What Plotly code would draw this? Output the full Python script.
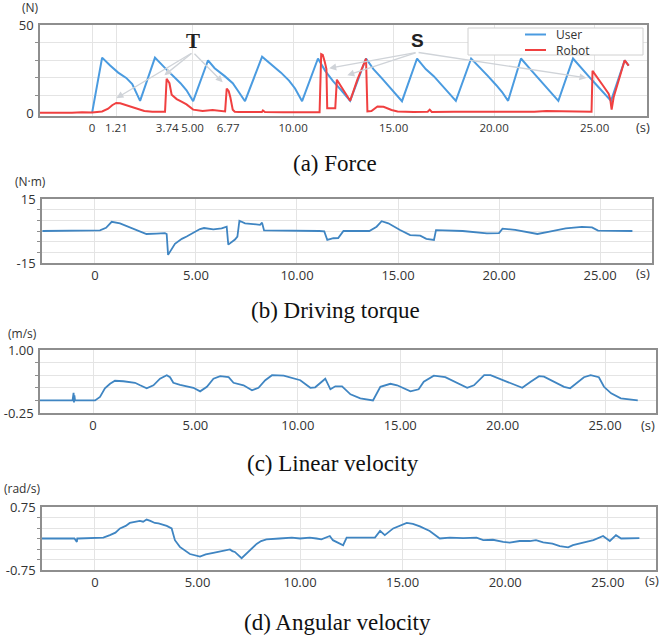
import plotly.graph_objects as go

W, H = 660, 638

# ---- (a) Force -------------------------------------------------------------
force_t_user = [0.00, 0.50, 0.90, 1.30, 1.70, 2.00, 2.39,
                3.13, 3.60, 4.00, 4.40, 4.70, 5.03,
                5.77, 6.10, 6.60, 7.00, 7.30, 7.61,
                8.46, 8.90, 9.40, 9.80, 10.10, 10.45,
                11.24, 11.60, 12.00, 12.40, 12.84,
                13.63, 14.00, 14.40, 14.80, 15.10, 15.42,
                16.17, 16.60, 17.00, 17.40, 17.70, 18.10,
                18.86, 19.30, 19.70, 20.10, 20.40, 20.70,
                21.34, 21.80, 22.20, 22.60, 22.90, 23.20,
                23.93, 24.30, 24.70, 25.10, 25.50, 25.82,
                26.50, 26.70]
force_user = [0.0, 31.5, 27.0, 23.0, 20.0, 16.5, 7.0,
              31.5, 26.0, 21.5, 17.0, 13.0, 6.8,
              30.0, 25.5, 21.0, 17.0, 12.0, 6.8,
              32.0, 28.0, 23.0, 18.5, 14.0, 6.8,
              31.0, 24.0, 18.0, 13.0, 7.0,
              31.0, 25.0, 20.0, 15.0, 11.0, 6.8,
              31.0, 25.0, 21.0, 16.0, 12.0, 7.0,
              31.0, 26.0, 21.0, 16.0, 12.0, 7.0,
              31.0, 25.0, 20.0, 15.0, 11.0, 7.0,
              31.0, 26.0, 21.0, 16.0, 11.0, 7.0,
              30.0, 27.0]

force_t_robot = [-2.60, -2.00, -1.50, -1.00, -0.50, 0.00, 0.50, 0.80, 1.00, 1.20,
                 1.40, 1.70, 2.00, 2.30, 2.60, 3.00, 3.40, 3.63, 3.71, 3.85,
                 3.96, 4.21, 4.45, 4.70, 5.03, 5.50, 6.00, 6.40, 6.62, 6.70,
                 6.80, 6.88, 7.00, 7.10, 7.30, 8.00, 8.45, 8.50, 8.60, 9.50,
                 10.50, 11.32, 11.40, 11.48, 11.58, 11.66, 11.70, 12.10, 12.18, 12.50,
                 12.84, 13.20, 13.63, 13.70, 13.90, 14.20, 14.50, 14.90, 15.20, 16.00,
                 16.70, 16.80, 16.90, 18.00, 20.00, 22.00, 22.60, 24.00, 24.85, 24.90,
                 25.10, 25.40, 25.70, 25.78, 25.85, 25.95, 26.50, 26.70]
force_robot = [0.3, 0.2, 0.4, 0.2, 0.5, 0.4, 1.0, 2.5, 4.5, 5.8,
               5.6, 4.5, 3.0, 2.0, 1.2, 0.8, 0.7, 0.8, 19.5, 17.0,
               10.5, 8.0, 6.5, 5.0, 2.0, 1.2, 1.8, 1.2, 1.0, 14.0,
               12.5, 9.0, 2.0, 0.8, 0.6, 0.6, 0.6, 1.5, 0.6, 0.5,
               0.6, 0.5, 33.5, 33.0, 29.0, 25.0, 2.8, 2.8, 19.0, 13.0,
               7.0, 19.0, 31.0, 1.0, 1.2, 3.8, 3.6, 1.8, 0.9, 0.7,
               0.8, 2.0, 0.7, 0.8, 0.7, 0.8, 1.2, 0.8, 0.8, 24.0,
               21.0, 16.0, 11.0, 8.0, 2.0, 9.0, 30.0, 27.0]

force_ticks = [0, 1.21, 3.74, 5.00, 6.77, 10.00, 15.00, 20.00, 25.00]
force_tick_text = ["0", "1.21", "3.74", "5.00", "6.77", "10.00", "15.00", "20.00", "25.00"]
force_series = ["User", "Robot"]

# ---- (b) Driving torque ----------------------------------------------------
torque_t = [-2.60, 0.00, 0.25, 0.55, 0.83, 1.24, 1.90, 2.39, 2.55, 3.05,
            3.46, 3.55, 3.62, 3.96, 4.30, 4.54, 5.20, 5.40, 5.86, 6.27,
            6.52, 6.60, 6.76, 6.93, 7.05, 7.15, 7.43, 8.17, 8.27, 8.37,
            11.10, 11.35, 11.50, 11.63, 11.80, 12.04, 12.30, 13.58, 13.94, 14.19,
            14.52, 15.10, 15.60, 16.10, 16.40, 16.78, 16.88, 18.20, 19.40, 20.00,
            20.17, 20.80, 21.50, 21.90, 22.50, 23.30, 24.10, 24.60, 24.90, 26.60]
torque = [0.0, 0.0, 0.3, 1.5, 4.3, 3.6, 1.2, -0.8, -1.4, -1.2,
          -1.0, -1.4, -11.2, -6.0, -3.7, -2.6, 0.9, 1.4, 0.8, 1.2,
          2.0, -6.4, -5.4, -4.0, -2.6, 4.8, 3.6, 2.9, 3.9, 0.3,
          0.0, -0.2, -4.2, -3.9, -3.4, -3.3, 0.0, 0.0, 2.0, 4.6,
          3.6, 0.5, -1.9, -2.2, -3.7, -4.2, 0.4, 0.0, -1.1, -1.0,
          1.1, 0.5, -0.5, -1.4, -0.3, 1.2, 1.9, 1.7, 0.2, 0.0]

# ---- (c) Linear velocity ---------------------------------------------------
linvel_t = [-2.60, -1.00, -0.95, -0.93, -0.91, -0.88, 0.10, 0.34, 0.58, 0.83,
            1.07, 1.48, 2.05, 2.30, 2.62, 2.95, 3.27, 3.60, 3.76, 3.92,
            4.25, 4.90, 5.23, 5.56, 5.88, 6.21, 6.62, 6.86, 7.35, 7.76,
            8.08, 8.41, 8.74, 9.31, 10.12, 10.61, 10.85, 11.34, 11.59, 11.83,
            12.16, 12.57, 13.05, 13.67, 14.03, 14.52, 14.85, 15.50, 15.90, 16.15,
            16.64, 17.20, 18.27, 18.60, 19.10, 19.41, 20.20, 20.96, 21.37, 21.78,
            22.02, 23.00, 23.30, 23.97, 24.30, 24.70, 24.95, 25.30, 25.77, 26.60]
linvel = [0.00, 0.00, 0.15, -0.04, 0.10, 0.00, 0.00, 0.07, 0.24, 0.33,
          0.39, 0.38, 0.35, 0.30, 0.24, 0.30, 0.43, 0.50, 0.46, 0.35,
          0.31, 0.25, 0.18, 0.27, 0.43, 0.48, 0.46, 0.35, 0.30, 0.20,
          0.25, 0.40, 0.50, 0.49, 0.40, 0.25, 0.26, 0.43, 0.22, 0.28,
          0.28, 0.12, 0.04, 0.00, 0.27, 0.33, 0.30, 0.18, 0.22, 0.37,
          0.49, 0.46, 0.25, 0.30, 0.50, 0.50, 0.38, 0.25, 0.37, 0.48,
          0.47, 0.27, 0.24, 0.46, 0.50, 0.46, 0.27, 0.14, 0.04, 0.00]

# ---- (d) Angular velocity --------------------------------------------------
angvel_t = [-2.60, -1.30, -1.00, -0.88, -0.86, -0.80, 0.41, 0.73, 1.00, 1.22,
            1.50, 1.70, 1.95, 2.19, 2.35, 2.52, 2.70, 2.92, 3.10, 3.33,
            3.50, 3.74, 3.90, 4.14, 4.40, 4.63, 5.12, 5.40, 5.77, 6.20,
            6.58, 6.70, 6.82, 7.15, 7.40, 7.60, 7.88, 8.10, 8.36, 9.00,
            9.60, 10.00, 10.47, 10.80, 11.04, 11.45, 11.60, 12.10, 12.27, 13.65,
            13.90, 14.13, 14.54, 15.20, 15.50, 15.84, 16.32, 16.81, 17.30, 17.95,
            18.60, 18.93, 19.40, 19.90, 20.22, 20.70, 21.20, 21.50, 21.85, 22.30,
            22.66, 23.07, 23.30, 23.80, 24.30, 24.77, 25.10, 25.40, 25.65, 26.54]
angvel = [0.00, 0.00, 0.00, -0.08, 0.00, 0.00, 0.02, 0.08, 0.14, 0.24,
          0.30, 0.37, 0.39, 0.42, 0.40, 0.45, 0.42, 0.37, 0.36, 0.33,
          0.30, 0.24, -0.04, -0.20, -0.30, -0.37, -0.43, -0.38, -0.34, -0.30,
          -0.26, -0.30, -0.32, -0.47, -0.36, -0.25, -0.13, -0.06, -0.02, 0.00,
          0.02, 0.00, 0.02, 0.00, -0.02, 0.06, -0.04, -0.16, 0.02, 0.02,
          0.18, 0.08, 0.24, 0.37, 0.35, 0.29, 0.18, 0.00, 0.02, 0.01,
          0.02, -0.04, -0.03, -0.08, -0.10, -0.06, -0.06, -0.04, -0.09, -0.12,
          -0.18, -0.21, -0.16, -0.10, -0.04, 0.06, -0.06, 0.08, 0.00, 0.01]

common_ticks = [0, 5, 10, 15, 20, 25]
common_tick_text = ["0", "5.00", "10.00", "15.00", "20.00", "25.00"]

BLUE_USER = "#4a9be0"
BLUE_LINE = "#3f85c2"
RED = "#f04040"
FRAME = "#8e8e8e"
GRID = "#e4e4e4"
TEXT = "#333333"
TICK_FONT = dict(family="Open Sans", size=13, color=TEXT)


def xdom(left, right):
    return [left / W, right / W]


def ydom(top, bottom):
    return [1 - bottom / H, 1 - top / H]


def px(x, y):
    return dict(x=x / W, y=1 - y / H, xref="paper", yref="paper")


fig = go.Figure()

fig.add_trace(go.Scatter(x=force_t_user, y=force_user, mode="lines", name=force_series[0],
                         line=dict(color=BLUE_USER, width=2), xaxis="x", yaxis="y"))
fig.add_trace(go.Scatter(x=force_t_robot, y=force_robot, mode="lines", name=force_series[1],
                         line=dict(color=RED, width=2), xaxis="x", yaxis="y"))
fig.add_trace(go.Scatter(x=torque_t, y=torque, mode="lines",
                         line=dict(color=BLUE_LINE, width=1.8), xaxis="x2", yaxis="y2"))
fig.add_trace(go.Scatter(x=linvel_t, y=linvel, mode="lines",
                         line=dict(color=BLUE_LINE, width=1.8), xaxis="x3", yaxis="y3"))
fig.add_trace(go.Scatter(x=angvel_t, y=angvel, mode="lines",
                         line=dict(color=BLUE_LINE, width=1.8), xaxis="x4", yaxis="y4"))


def xaxis_cfg(domain, rng, anchor, tickvals, ticktext, gridvals, font=TICK_FONT):
    return dict(domain=domain, range=rng, anchor=anchor, tickvals=tickvals, ticktext=ticktext,
                tickangle=0, automargin=False,
                showgrid=False, zeroline=False, showline=True, mirror=True,
                linecolor=FRAME, linewidth=1.5, ticks="", tickfont=font,
                minor=dict(tickvals=gridvals, showgrid=True, gridcolor=GRID, gridwidth=1, ticks=""))


def yaxis_cfg(domain, rng, anchor, tickvals, ticktext, gridvals):
    return dict(domain=domain, range=rng, anchor=anchor, tickvals=tickvals, ticktext=ticktext,
                automargin=False,
                showgrid=False, zeroline=False, showline=True, mirror=True,
                linecolor=FRAME, linewidth=1.5, ticks="", tickfont=TICK_FONT, ticklabelstandoff=2,
                minor=dict(tickvals=gridvals, showgrid=True, gridcolor=GRID, gridwidth=1,
                           ticks="outside", ticklen=3, tickcolor=FRAME))


fig.update_layout(
    width=W, height=H, margin=dict(l=0, r=0, t=0, b=0, autoexpand=False),
    paper_bgcolor="white", plot_bgcolor="white", showlegend=False,
    xaxis=xaxis_cfg(xdom(40, 647), [-2.59, 27.61], "y", force_ticks, force_tick_text,
                    [0, 1.21, 5, 10, 15, 20, 25],
                    font=dict(family="Open Sans", size=11.5, color=TEXT)),
    yaxis=yaxis_cfg(ydom(25, 116), [-1.6, 50], "x", [0, 50], ["0", "50"], [10, 20, 30, 40]),
    xaxis2=xaxis_cfg(xdom(42, 652), [-2.62, 27.57], "y2", common_ticks, common_tick_text, common_ticks),
    yaxis2=yaxis_cfg(ydom(199, 263), [-15, 15], "x2", [-15, 15], ["-15", "15"], [-10, -5, 0, 5, 10]),
    xaxis3=xaxis_cfg(xdom(40, 656), [-2.59, 27.49], "y3", common_ticks, common_tick_text, common_ticks),
    yaxis3=yaxis_cfg(ydom(350, 413), [-0.25, 1.0], "x3", [-0.25, 1.0], ["-0.25", "1.00"],
                     [0, 0.25, 0.5, 0.75]),
    xaxis4=xaxis_cfg(xdom(42, 656), [-2.58, 27.35], "y4", common_ticks, common_tick_text, common_ticks),
    yaxis4=yaxis_cfg(ydom(507, 570), [-0.75, 0.75], "x4", [-0.75, 0.75], ["-0.75", "0.75"],
                     [-0.5, -0.25, 0, 0.25, 0.5]),
)

# legend box for the force panel
shapes = [dict(type="rect", xref="paper", yref="paper",
               x0=468 / W, x1=643 / W, y0=1 - 55 / H, y1=1 - 28 / H,
               line=dict(color="#d0d0d0", width=1), fillcolor="white", layer="above")]
for color, ypix in [(BLUE_USER, 34.5), (RED, 50)]:
    shapes.append(dict(type="line", xref="paper", yref="paper",
                       x0=525 / W, x1=546 / W, y0=1 - ypix / H, y1=1 - ypix / H,
                       line=dict(color=color, width=2), layer="above"))

annotations = [dict(text="<br>".join(force_series), showarrow=False, xanchor="left", yanchor="middle",
                    align="left", font=dict(family="Open Sans", size=12, color=TEXT), **px(554, 42))]

# unit labels
for text, x, y in [("(N)", 30, 7), ("(N·m)", 31, 181), ("(m/s)", 22, 333), ("(rad/s)", 22, 488)]:
    annotations.append(dict(text=text, showarrow=False, font=dict(family="Open Sans", size=12, color=TEXT),
                            xanchor="center", yanchor="middle", **px(x, y)))

# time unit labels
for x, y in [(643, 127), (643, 273), (648, 425), (652, 580)]:
    annotations.append(dict(text="(s)", showarrow=False, font=dict(family="Open Sans", size=13, color=TEXT),
                            xanchor="center", yanchor="middle", **px(x, y)))

# sub-figure captions
for text, x, y in [("(a) Force", 335, 163), ("(b) Driving torque", 335, 311),
                   ("(c) Linear velocity", 333, 463), ("(d) Angular velocity", 337, 622)]:
    annotations.append(dict(text=text, showarrow=False,
                            font=dict(family="Liberation Serif", size=23, color="#111111"),
                            xanchor="center", yanchor="middle", **px(x, y)))

# T / S labels with pointer lines
annotations.append(dict(text="<b>T</b>", showarrow=False, xref="x", yref="y", x=5.0, y=41,
                        font=dict(family="Liberation Serif", size=21, color="#222222")))
annotations.append(dict(text="<b>S</b>", showarrow=False, xref="x", yref="y", x=16.17, y=41,
                        font=dict(family="Liberation Sans", size=19, color="#222222")))

T_tail = (5.02, 34.5)
S_tail = (16.17, 34.5)
for (tx, ty), targets in [(T_tail, [(1.21, 8.5), (3.6, 21.5), (6.5, 17.5)]),
                          (S_tail, [(11.8, 25.5), (12.7, 21.5), (24.6, 20.0)])]:
    for x, y in targets:
        annotations.append(dict(text="", x=x, y=y, xref="x", yref="y", ax=tx, ay=ty,
                                axref="x", ayref="y", showarrow=True, arrowhead=2,
                                arrowsize=1, arrowwidth=1.4, arrowcolor="#cfd3d8"))

fig.update_layout(annotations=annotations, shapes=shapes)

fig.write_html("out.html")
